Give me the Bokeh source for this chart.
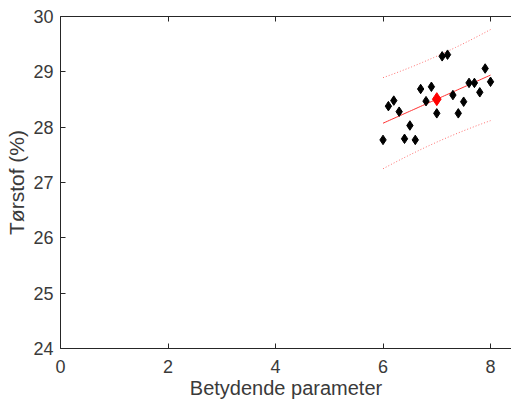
import numpy as np
from bokeh.plotting import figure
from bokeh.models import Range1d, LinearAxis, FixedTicker, CustomJSTickFormatter
from bokeh.embed import file_html
from bokeh.resources import INLINE

x_vals = [6.0, 6.1, 6.2, 6.3, 6.4, 6.5, 6.6, 6.7, 6.8, 6.9, 7.0,
          7.1, 7.2, 7.3, 7.4, 7.5, 7.6, 7.7, 7.8, 7.9, 8.0]
y_vals = [27.77, 28.38, 28.48, 28.28, 27.79, 28.03, 27.77, 28.69, 28.47, 28.73, 28.25,
          29.28, 29.31, 28.58, 28.25, 28.46, 28.80, 28.80, 28.63, 29.06, 28.82]
x_ticks = [0, 2, 4, 6, 8]
y_ticks = [24, 25, 26, 27, 28, 29, 30]
t_crit = 2.093  # 95 %, 19 dof

x = np.array(x_vals)
y = np.array(y_vals)
n = len(x)
slope, intercept = np.polyfit(x, y, 1)
xm, ym = x.mean(), y.mean()
resid = y - (slope * x + intercept)
s = np.sqrt((resid ** 2).sum() / (n - 2))
sxx = ((x - xm) ** 2).sum()
xf = np.linspace(x.min(), x.max(), 50)
yf = slope * xf + intercept
half = t_crit * s * np.sqrt(1 + 1 / n + (xf - xm) ** 2 / sxx)

FONT = "Liberation Sans"
GRAY = "#262626"
TXT = "#3a3a3a"

p = figure(width=511, height=401, output_backend="svg", toolbar_location=None,
           x_range=Range1d(0, 8.39), y_range=Range1d(24, 30),
           min_border_left=60, min_border_right=0, min_border_top=16, min_border_bottom=53)
p.outline_line_color = None
p.grid.visible = False
p.background_fill_color = "white"

p.line(xf, yf + half, line_color="#ff7070", line_width=1, line_dash="1 2")
p.line(xf, yf - half, line_color="#ff7070", line_width=1, line_dash="1 2")
p.line(xf, yf, line_color="#ff3030", line_width=1)
p.scatter(x, y, marker="diamond", size=9.5, color="black")
p.scatter([xm], [ym], marker="diamond", size=13, color="#ff0000")

for ax in (p.xaxis[0], p.yaxis[0]):
    ax.axis_line_color = GRAY
    ax.major_tick_line_color = GRAY
    ax.major_tick_in = 5
    ax.major_tick_out = 0
    ax.minor_tick_line_color = None
    ax.major_label_text_font = FONT
    ax.major_label_text_font_size = "18px"
    ax.major_label_text_color = TXT
    ax.axis_label_text_font = FONT
    ax.axis_label_text_font_size = "20px"
    ax.axis_label_text_font_style = "normal"
    ax.axis_label_text_color = TXT

p.xaxis[0].ticker = FixedTicker(ticks=x_ticks)
p.yaxis[0].ticker = FixedTicker(ticks=y_ticks)
p.xaxis[0].axis_label = "Betydende parameter"
p.yaxis[0].axis_label = "Tørstof (%)"
p.yaxis[0].axis_label_text_font_size = "21px"
p.xaxis[0].major_label_standoff = 11
p.xaxis[0].axis_label_standoff = 1
p.yaxis[0].major_label_standoff = 7
p.yaxis[0].axis_label_standoff = 2

top = LinearAxis(ticker=FixedTicker(ticks=x_ticks),
                 formatter=CustomJSTickFormatter(code="return ''"))
top.axis_line_color = GRAY
top.major_tick_line_color = GRAY
top.major_tick_in = 5
top.major_tick_out = 0
top.minor_tick_line_color = None
top.major_label_standoff = 0
p.add_layout(top, "above")

open("out.html", "w").write(file_html(p, INLINE))
